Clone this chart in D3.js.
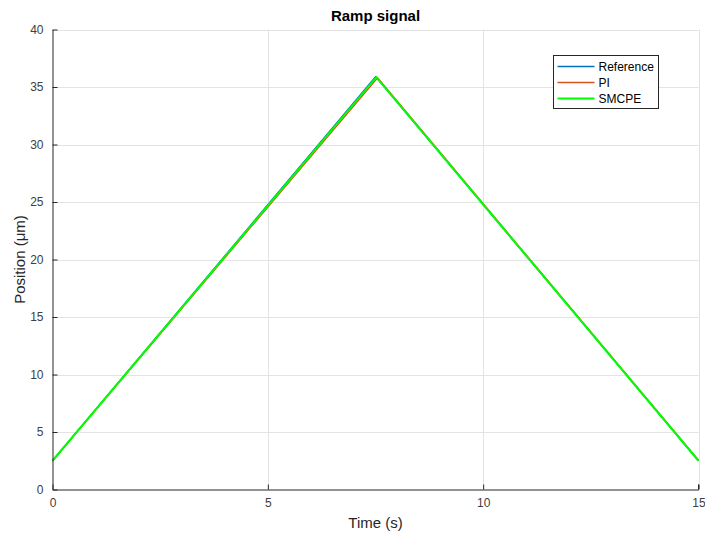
<!DOCTYPE html>
<html>
<head>
<meta charset="utf-8">
<script src="https://cdn.jsdelivr.net/npm/d3@7"></script>
<style>
  body { margin: 0; background: #fff; }
  svg { display: block; font-family: Arial, "Liberation Sans", Helvetica, sans-serif; }
</style>
</head>
<body>
<svg id="chart" width="705" height="541"></svg>
<script>
// Ramp signal tracking: time (s) vs position (um)
const refTime = [0, 7.5, 15];
const refPos = [2.5, 35.9, 2.5];
const piTime = [0, 7.55, 15];
const piPos = [2.5, 35.8, 2.55];
const smcpeTime = [0, 7.52, 15];
const smcpePos = [2.5, 35.85, 2.5];

const xTicks = [0, 5, 10, 15];
const yTicks = [0, 5, 10, 15, 20, 25, 30, 35, 40];
const seriesNames = ["Reference", "PI", "SMCPE"];
const seriesColors = ["#0072BD", "#D95319", "#00FF00"];

const svg = d3.select("#chart");
const margin = { left: 52.5, right: 6.5, top: 29.5, bottom: 51.5 };
const W = 705, H = 541;

const x = d3.scaleLinear().domain([0, 15]).range([margin.left, W - margin.right]);
const y = d3.scaleLinear().domain([0, 40]).range([H - margin.bottom, margin.top]);

// grid
const grid = svg.append("g").attr("stroke", "#e3e3e3").attr("stroke-width", 1);
grid.selectAll(".gx").data(xTicks.filter(d => d > 0)).enter().append("line")
  .attr("x1", d => Math.round(x(d)) + 0.5).attr("x2", d => Math.round(x(d)) + 0.5)
  .attr("y1", y(0)).attr("y2", y(40));
grid.selectAll(".gy").data(yTicks.filter(d => d > 0)).enter().append("line")
  .attr("y1", d => Math.round(y(d)) + 0.5).attr("y2", d => Math.round(y(d)) + 0.5)
  .attr("x1", x(0)).attr("x2", x(15));

// series
const lines = [
  { name: seriesNames[0], t: refTime, v: refPos, color: seriesColors[0], w: 1.3 },
  { name: seriesNames[1], t: piTime, v: piPos, color: seriesColors[1], w: 1.3 },
  { name: seriesNames[2], t: smcpeTime, v: smcpePos, color: seriesColors[2], w: 2 }
];
const lineGen = d3.line().x(d => x(d[0])).y(d => y(d[1]));
lines.forEach(s => {
  svg.append("path")
    .datum(s.t.map((t, i) => [t, s.v[i]]))
    .attr("fill", "none")
    .attr("stroke", s.color)
    .attr("stroke-width", s.w)
    .attr("d", lineGen);
});

// axes (ticks pointing inward)
const xAxis = svg.append("g").attr("transform", `translate(0,${y(0)})`)
  .call(d3.axisBottom(x).tickValues(xTicks).tickSizeInner(-5).tickSizeOuter(0).tickPadding(9));
const yAxis = svg.append("g").attr("transform", `translate(${x(0)},0)`)
  .call(d3.axisLeft(y).tickValues(yTicks).tickSizeInner(-5).tickSizeOuter(0).tickPadding(9));
[xAxis, yAxis].forEach(a => {
  a.selectAll("path, line").attr("stroke", "#262626");
  a.selectAll("text").attr("fill", "#404040").style("font-size", "12px")
    .style("font-family", "Arial, 'Liberation Sans', sans-serif");
});
// right-end tick on the x axis
svg.append("line").attr("x1", x(15)).attr("x2", x(15))
  .attr("y1", y(0)).attr("y2", y(0) - 5).attr("stroke", "#262626");

// labels
svg.append("text").attr("x", (x(0) + x(15)) / 2).attr("y", 21)
  .attr("text-anchor", "middle").style("font-size", "15px").style("font-weight", "bold")
  .attr("fill", "#000").text("Ramp signal");
svg.append("text").attr("x", (x(0) + x(15)) / 2).attr("y", 528)
  .attr("text-anchor", "middle").style("font-size", "15px").attr("fill", "#262626")
  .text("Time (s)");
svg.append("text").attr("transform", `translate(25,${(y(0) + y(40)) / 2}) rotate(-90)`)
  .attr("text-anchor", "middle").style("font-size", "15px").attr("fill", "#262626")
  .text("Position (μm)");

// legend
const lg = svg.append("g").attr("transform", "translate(553.5,55.5)");
lg.append("rect").attr("width", 105).attr("height", 53)
  .attr("fill", "#fff").attr("stroke", "#262626").attr("stroke-width", 1);
lines.forEach((s, i) => {
  const yy = 11 + i * 16;
  lg.append("line").attr("x1", 4).attr("x2", 41).attr("y1", yy).attr("y2", yy)
    .attr("stroke", s.color).attr("stroke-width", s.w);
  lg.append("text").attr("x", 45).attr("y", yy + 4).style("font-size", "12px")
    .attr("fill", "#000").text(s.name);
});
</script>
</body>
</html>
